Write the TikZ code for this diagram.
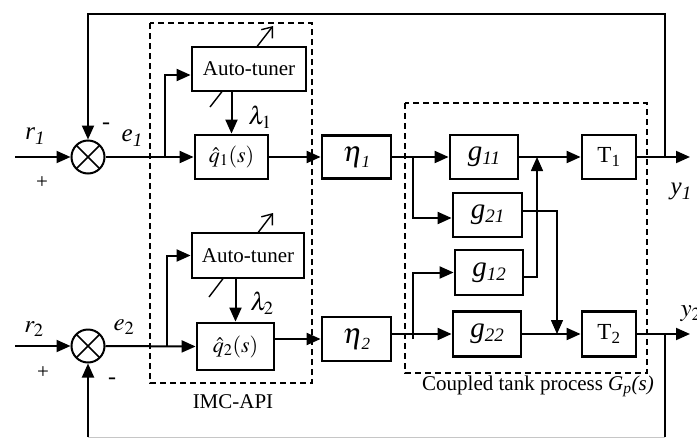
\documentclass[tikz,border=0pt]{standalone}
\usepackage{mathptmx}
\usepackage{fontspec}
\setmainfont{Liberation Serif}
\usetikzlibrary{arrows.meta,calc}

% transfer-function names with large italic subscripts
\newcommand\gsub[1]{{\fontsize{29}{30}\selectfont\textit{g}}\raisebox{-4pt}{\fontsize{19}{20}\selectfont\textit{#1}}}
\newcommand\etasub[1]{{\fontsize{29}{30}\selectfont$\eta$}\kern-1pt\raisebox{-6pt}{\fontsize{17}{18}\selectfont\textit{#1}}}
\newcommand\sigsub[2]{{\fontsize{25}{26}\selectfont\textit{#1}}\raisebox{-5pt}{\fontsize{19}{20}\selectfont\textit{#2}}}

\tikzset{
  blk/.style={draw, line width=2.8pt, fill=white, inner sep=0pt,
              font=\fontsize{21}{24}\selectfont},
  sig/.style={line width=2pt},
  thin sig/.style={line width=1.5pt},
  arr/.style={-{Triangle[length=14pt,width=12pt]}},
  tune/.style={line width=1.4pt, -{Straight Barb[length=9pt,width=14pt]}},
  frame/.style={draw, line width=1.4pt, dash pattern=on 6pt off 4pt},
  lbl/.style={font=\fontsize{21}{24}\selectfont, inner sep=0pt},
  sumj/.style={draw, circle, line width=2pt, minimum size=33pt, inner sep=0pt,
               path picture={\draw[line width=1.7pt]
                 (path picture bounding box.north west) -- (path picture bounding box.south east)
                 (path picture bounding box.north east) -- (path picture bounding box.south west);}},
}

\begin{document}
\begin{tikzpicture}[x=1pt,y=-1pt]
\useasboundingbox (0,0) rectangle (697,437);

% dashed frames
\draw[frame] (150,23) rectangle (312,383);
\draw[frame] (405,103) rectangle (647,373);
\node[lbl] (imc) at (233,402) {IMC-API};
\node[lbl] (cpl) at (538,386) {Coupled tank process \textit{G\textsubscript{p}(s)}};

% tuning arrows behind the auto-tuner blocks
\coordinate (ta1) at (210,107);
\coordinate (tb1) at (273,26);
\coordinate (ta2) at (209,297);
\coordinate (tb2) at (273,213);
\draw[tune] (ta1) -- (tb1);
\draw[tune] (ta2) -- (tb2);

% summing junctions
\node[sumj] (s1) at (88,157) {};
\node[sumj] (s2) at (88,346) {};

% blocks
\node[blk, minimum width=114pt, minimum height=44pt] (at1) at (249,69) {Auto-tuner};
\node[blk, minimum width=73pt, minimum height=44pt, font=\fontsize{22}{24}\selectfont] (q1) at (231.5,157) {$\hat{q}_1(s)$};
\node[blk, minimum width=69pt, minimum height=43pt] (eta1) at (356.5,157) {\etasub{1}};
\node[blk, minimum width=68pt, minimum height=44pt] (g11) at (484,157) {\gsub{11}};
\node[blk, minimum width=54pt, minimum height=44pt, font=\fontsize{23}{24}\selectfont] (T1) at (609,157) {T\textsubscript{1}};
\node[blk, minimum width=69pt, minimum height=44pt] (g21) at (487.5,215) {\gsub{21}};
\node[blk, minimum width=68pt, minimum height=45pt] (g12) at (489,272.5) {\gsub{12}};
\node[blk, minimum width=68pt, minimum height=45pt] (g22) at (487,334) {\gsub{22}};
\node[blk, minimum width=54pt, minimum height=45pt, font=\fontsize{23}{24}\selectfont] (T2) at (609,334) {T\textsubscript{2}};
\node[blk, minimum width=112pt, minimum height=45pt] (at2) at (248,255.5) {Auto-tuner};
\node[blk, minimum width=77pt, minimum height=47pt, font=\fontsize{22}{24}\selectfont] (q2) at (235.5,346.5) {$\hat{q}_2(s)$};
\node[blk, minimum width=69pt, minimum height=44pt] (eta2) at (356.5,339) {\etasub{2}};

% external points
\coordinate (r1in) at (15,157);
\coordinate (r2in) at (15,346);
\coordinate (y1out) at (690,157);
\coordinate (y2out) at (690,334);
\coordinate (fb1) at (665,157);
\coordinate (fb2) at (665,334);
\coordinate (top1) at (665,14);
\coordinate (bot2) at (665,437);
\coordinate (bot1) at (88,437);
\coordinate (br1) at (165,157);
\coordinate (br2) at (167,346);
\coordinate (br3) at (413,157);
\coordinate (br4) at (413,339);
\coordinate (j1) at (537,157);
\coordinate (j2) at (557,334);

% loop 1
\draw[sig, arr] (r1in) -- (s1.west);
\draw[sig, arr] (s1.east) -- (q1.west);
\draw[sig, arr] (br1) |- ($(at1.west)+(0,6)$);
\draw[sig, arr] (at1.south -| q1.north) -- (q1.north);
\draw[sig, arr] (q1.east) -- (eta1.west);
\draw[sig, arr] (eta1.east) -- (g11.west);
\draw[sig, arr] (br3) |- ($(g21.west)+(0,3)$);
\draw[sig, arr] (g11.east) -- (T1.west);
\draw[sig, arr] (T1.east) -- (y1out);
\draw[sig, arr] (fb1) -- (top1) -| (s1.north);

% loop 2
\draw[sig, arr] (r2in) -- (s2.west);
\draw[sig, arr] (s2.east) -- (q2.west);
\draw[sig, arr] (br2) |- (at2.west);
\draw[sig, arr] (at2.south -| q2.north) -- (q2.north);
\draw[sig, arr] (q2.east |- eta2.west) -- (eta2.west);
\draw[sig, arr] (eta2.east |- g22.west) -- (g22.west);
\draw[sig, arr] (br4) |- (g12.west);
\draw[sig, arr] (g22.east) -- (T2.west);
\draw[sig, arr] (T2.east) -- (y2out);
\draw[sig] (fb2) -- (bot2);
\draw[line width=1pt, gray!45] (bot2) -- (bot1);
\draw[sig, arr] (bot1) -- (s2.south);

% cross couplings
\draw[thin sig, arr] ($(g12.east)+(0,4.5)$) -| (j1);
\draw[thin sig, arr] ($(g21.east)+(0,-4)$) -| (j2);

% labels
\node[lbl] (lr1) at (35,136) {\sigsub{r}{1}};
\node[lbl] (lp1) at (42,183) {+};
\node[lbl, font=\fontsize{24}{24}\selectfont] (lm1) at (106,126) {-};
\node[lbl] (le1) at (132,138) {\sigsub{e}{1}};
\node[lbl, font=\fontsize{25}{26}\selectfont] (ll1) at (260,117) {$\lambda_1$};
\node[lbl] (ly1) at (681,191) {\sigsub{y}{1}};
\node[lbl, font=\fontsize{25}{26}\selectfont] (lr2) at (34,329) {$r_2$};
\node[lbl] (lp2) at (43,373) {+};
\node[lbl, font=\fontsize{24}{24}\selectfont] (lm2) at (112,381) {-};
\node[lbl, font=\fontsize{25}{26}\selectfont] (le2) at (124,327) {$e_2$};
\node[lbl, font=\fontsize{25}{26}\selectfont] (ll2) at (262,303) {$\lambda_2$};
\node[lbl, font=\fontsize{25}{26}\selectfont] (ly2) at (691,314) {$y_2$};
\end{tikzpicture}
\end{document}
